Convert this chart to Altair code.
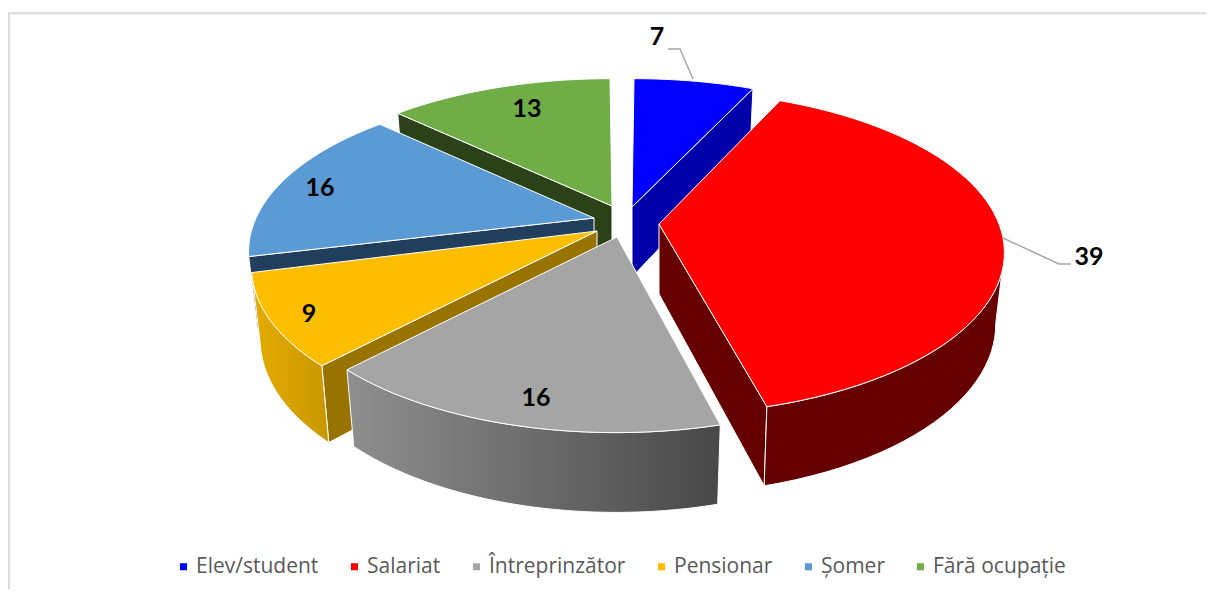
import math
import altair as alt
import pandas as pd

# --- chart values
CATEGORIES = ["Elev/student", "Salariat", "Întreprinzător", "Pensionar", "Șomer", "Fără ocupație"]
VALUES = [7, 39, 16, 9, 16, 13]
COLORS = ["#0000FF", "#FF0000", "#A5A5A5", "#FDBE00", "#5B9BD5", "#70AD47"]
SIDE_DARK = ["#0000AA", "#660000", "#4A4A4A", "#997300", "#213F5C", "#2B4219"]
WALL_LEFT = ["#0000AA", "#660000", "#8F8F8F", "#E5AC00", "#213F5C", "#2B4219"]
WALL_RIGHT = ["#0000AA", "#660000", "#484848", "#C99700", "#213F5C", "#2B4219"]
# explosion: where each slice's tip sits (reference pixel frame)
APEX_X = [632, 659, 617, 597, 594, 612]
APEX_Y = [207, 224, 237, 231, 218, 206]
RIM_DX = [2, 2, -1, -2, -2, -2]
RIM_DY = [-2, -7, 1, 1, -2, -1]
RIM_S = [1, 1, 0.985, 1, 1, 1]
LABEL_DX = [25, 430, -81, -288, -274, -85]
LABEL_DY = [-171, 32, 160, 82, -31, -98]
DRAW_ORDER = [5, 0, 4, 3, 1, 2]
RADIAL_EDGE = [1, 1, None, 0, 0, 0]      # which cut face of a slice can be seen
OUTER_WALL = [False, True, True, True, False, False]
LEADER_7 = ([693, 680, 668], [79, 49, 49])
LEADER_39 = ([1003, 1059, 1071], [238, 264, 264])

# --- 3D pie projection
R, TILT, PERSP = 335, 0.46, 0.22
BOTTOM_X, BOTTOM_Y, BOTTOM_D = 0.975, 1.05, 70
STEPS = 60


def rim(i, theta):
    s = RIM_S[i] / (1 + PERSP * math.cos(theta))
    return R * math.sin(theta) * s + RIM_DX[i], -R * TILT * math.cos(theta) * s + RIM_DY[i]


def top(i, dx, dy):
    return APEX_X[i] + dx, APEX_Y[i] + dy


def bottom(i, dx, dy):
    return APEX_X[i] + BOTTOM_X * dx, APEX_Y[i] + BOTTOM_Y * dy + BOTTOM_D


def table(points):
    return pd.DataFrame([{"i": k, "x": p[0], "y": p[1]} for k, p in enumerate(points)])


X = alt.X("x:Q", scale=alt.Scale(domain=[8, 1206]), axis=None)
Y = alt.Y("y:Q", scale=alt.Scale(domain=[589, 8]), axis=None)


def face(points, fill, stroke="white", width=1.0):
    return (
        alt.Chart(table(points))
        .mark_line(filled=True, fill=fill, stroke=stroke, strokeWidth=width,
                   interpolate="linear-closed", clip=False)
        .encode(x=X, y=Y, order=alt.Order("i:Q"))
    )


layers = []
total = sum(VALUES)
starts, acc = [], 0
for v in VALUES:
    starts.append(acc / total * 2 * math.pi)
    acc += v

# frame
layers.append(
    alt.Chart(pd.DataFrame({"x": [8.8, 8.8, 1206], "y": [589, 13.2, 13.2], "i": [0, 1, 2]}))
    .mark_line(stroke="#D9D9D9", strokeWidth=2)
    .encode(x=X, y=Y, order=alt.Order("i:Q"))
)

for i in DRAW_ORDER:
    t0 = starts[i]
    t1 = t0 + VALUES[i] / total * 2 * math.pi
    arc = [rim(i, t0 + (t1 - t0) * k / STEPS) for k in range(STEPS + 1)]
    # radial wall
    if RADIAL_EDGE[i] is not None:
        e = arc[-1] if RADIAL_EDGE[i] else arc[0]
        layers.append(face([top(i, 0, 0), top(i, *e), bottom(i, *e), bottom(i, 0, 0)], SIDE_DARK[i]))
    # outer wall, from the silhouette fold onwards
    if OUTER_WALL[i]:
        fold = max(range(len(arc)), key=lambda k: arc[k][0])
        part = arc[fold:]
        wall = [top(i, *p) for p in part] + [bottom(i, *p) for p in reversed(part)]
        grad = alt.Gradient(
            gradient="linear", x1=0, x2=1, y1=0, y2=0,
            stops=[alt.GradientStop(color=WALL_LEFT[i], offset=0),
                   alt.GradientStop(color=WALL_RIGHT[i], offset=1)],
        )
        layers.append(face(wall, grad))
    # top
    layers.append(face([top(i, 0, 0)] + [top(i, *p) for p in arc], COLORS[i]))

# leaders
for lx, ly in (LEADER_7, LEADER_39):
    layers.append(
        alt.Chart(pd.DataFrame({"x": lx, "y": ly, "i": range(len(lx))}))
        .mark_line(stroke="#A6A6A6", strokeWidth=1.5)
        .encode(x=X, y=Y, order=alt.Order("i:Q"))
    )

# labels
labels = pd.DataFrame({
    "x": [a + d for a, d in zip(APEX_X, LABEL_DX)],
    "y": [a + d + 1 for a, d in zip(APEX_Y, LABEL_DY)],
    "v": VALUES,
})
layers.append(
    alt.Chart(labels)
    .mark_text(font="Lato", fontSize=25, fontWeight="bold", color="black", baseline="middle", align="center")
    .encode(x=X, y=Y, text="v:Q")
)

# legend carrier
legend_df = pd.DataFrame({"c": CATEGORIES, "x": [600] * 6, "y": [250] * 6})
layers.append(
    alt.Chart(legend_df)
    .mark_point(size=0, filled=True, opacity=1)
    .encode(
        x=X, y=Y,
        color=alt.Color(
            "c:N",
            scale=alt.Scale(domain=CATEGORIES, range=COLORS),
            legend=alt.Legend(
                orient="none", direction="horizontal", columns=6, title=None,
                legendX=165, legendY=548, symbolType="square", symbolSize=50,
                labelFont="Open Sans", labelFontSize=21, labelColor="#595959",
                labelLimit=300, columnPadding=25, symbolOffset=0, labelOffset=2,
                symbolStrokeWidth=0,
            ),
        ),
    )
)

chart = (
    alt.layer(*layers)
    .resolve_scale(x="shared", y="shared")
    .properties(width=1198, height=581, padding=0, autosize=alt.AutoSizeParams(type="none"))
    .configure_view(stroke=None)
)
chart.save("out.html", embed_options={"renderer": "svg", "actions": False})
